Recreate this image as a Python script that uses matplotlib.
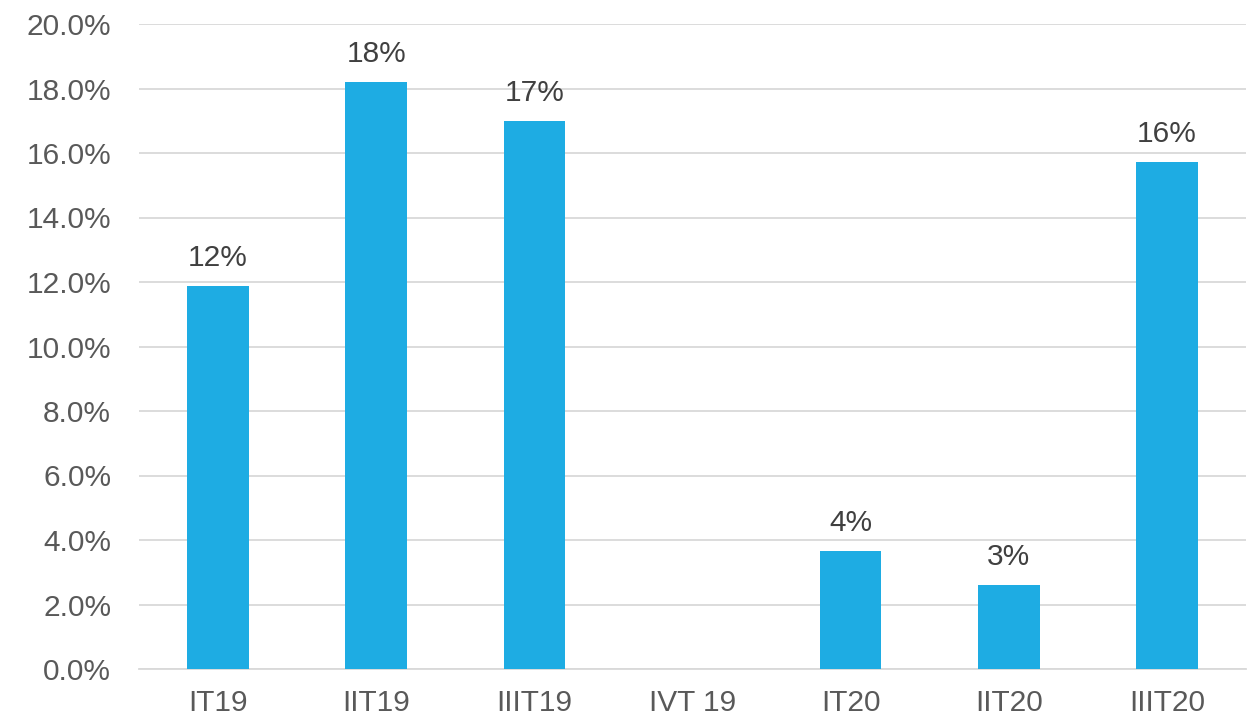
import matplotlib
matplotlib.use("Agg")
import matplotlib.pyplot as plt
from matplotlib.ticker import FuncFormatter, MultipleLocator

categories = ["IT19", "IIT19", "IIIT19", "IVT 19", "IT20", "IIT20", "IIIT20"]
values = [11.88, 18.2, 16.99, None, 3.66, 2.60, 15.72]
labels = ["12%", "18%", "17%", "", "4%", "3%", "16%"]

plt.rcParams['font.family'] = ['Liberation Sans', 'DejaVu Sans']

fig = plt.figure(figsize=(12.51, 7.16), dpi=100)
ax = fig.add_axes([139/1251, 1-669/716, (1246-139)/1251, (669-24)/716])

x = list(range(len(categories)))
vals = [v if v is not None else 0 for v in values]
bars = ax.bar(x, vals, width=0.39, color="#1EACE3", zorder=3)

for xi, v, lab in zip(x, values, labels):
    if v is None or not lab:
        continue
    ax.annotate(lab, (xi, v), xytext=(0, 10), textcoords="offset points",
                ha="center", va="bottom", fontsize=21.5, color="#404040")

ax.set_xlim(-0.5, len(categories) - 0.5)
ax.set_ylim(0, 20)
ax.yaxis.set_major_locator(MultipleLocator(2))
ax.yaxis.set_major_formatter(FuncFormatter(lambda v, p: f"{v:.1f}%"))
ax.set_xticks(x)
ax.set_xticklabels(categories)
ax.tick_params(axis='both', length=0, labelsize=21.5, labelcolor="#595959")
ax.tick_params(axis='x', pad=14.5)
ax.tick_params(axis='y', pad=20)
ax.grid(axis='y', color="#D9D9D9", linewidth=1.3, zorder=0)
for s in ["top", "right", "left"]:
    ax.spines[s].set_visible(False)
ax.spines["bottom"].set_color("#D9D9D9")
ax.spines["bottom"].set_linewidth(1.3)

fig.savefig("out.png", dpi=100)
